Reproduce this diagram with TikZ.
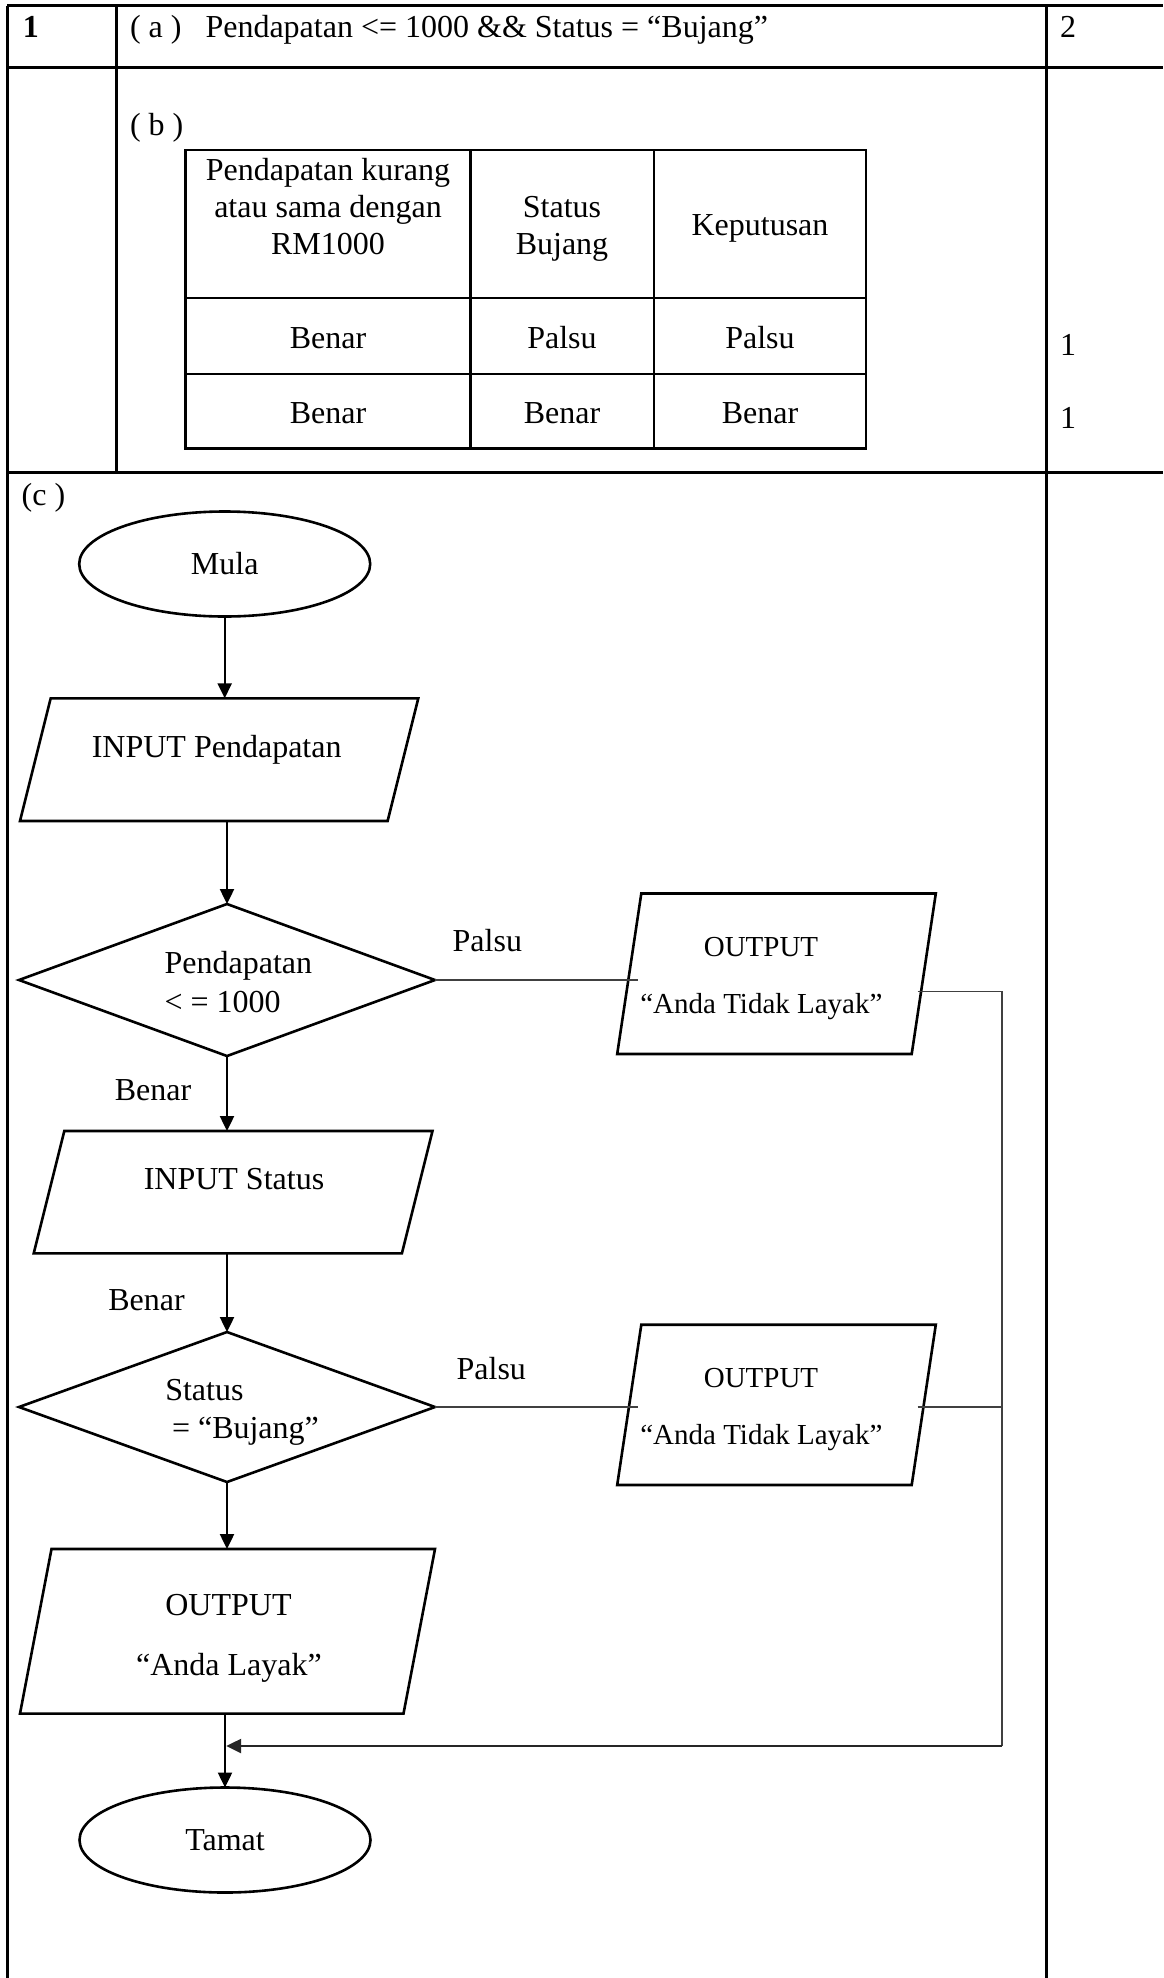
\documentclass[tikz,border=0pt]{standalone}
\usepackage{fontspec}
\setmainfont{Liberation Serif}
\usetikzlibrary{arrows.meta,shapes.geometric,calc}
\newcommand\drawpara[2]{%
  \draw[shapeline] ([xshift=#2pt]#1.north west) -- (#1.north east) -- ([xshift=-#2pt]#1.south east) -- (#1.south west) -- cycle;}
\begin{document}
\begin{tikzpicture}[x=1pt,y=-1pt,
  every node/.style={inner sep=0pt,outer sep=0pt,font=\fontsize{32pt}{37pt}\selectfont},
  frame/.style={line width=3pt},
  grid/.style={line width=2.6pt},
  shapeline/.style={line width=2.6pt},
  flow/.style={line width=2.4pt,-{Triangle[width=14pt,length=15pt]}},
  thinline/.style={line width=1.4pt,black!75},
  txt/.style={anchor=base west},
  ctxt/.style={anchor=base},
  small/.style={font=\fontsize{29pt}{34pt}\selectfont},
  box/.style={minimum width=#1pt},
  term/.style={ellipse,draw,shapeline,minimum width=291pt,minimum height=105pt},
  decision/.style={diamond,draw,shapeline,minimum width=416pt,aspect=2.75}
]
\useasboundingbox (0,0) rectangle (1163,1978);
\fill[white] (0,0) rectangle (1163,1978);

% ---------- outer table ----------
\draw[frame] (7,5.7) -- (1163,5.7);
\draw[frame] (7,67) -- (1163,67);
\draw[frame] (7,472.7) -- (1163,472.7);
\draw[frame] (7,5.7) -- (7,1978);
\draw[frame] (116,5.7) -- (116,472.7);
\draw[frame] (1046,5.7) -- (1046,1978);

\node[txt,font=\fontsize{32pt}{37pt}\selectfont\bfseries] (q1) at (23,37.5) {1};
\node[txt] (qa) at (130,37.5) {( a )\hspace{24pt}Pendapatan <= 1000 \&\& Status = “Bujang”};
\node[txt] (m2) at (1060,37.5) {2};
\node[txt] (qb) at (130,135) {( b )};
\node[txt] (m1a) at (1060,355.8) {1};
\node[txt] (m1b) at (1060,428.8) {1};

% ---------- inner table ----------
\draw[grid] (185.6,150) rectangle (865.8,448.5);
\draw[grid] (185.6,298) -- (865.8,298);
\draw[grid] (185.6,374) -- (865.8,374);
\draw[grid] (470.7,150) -- (470.7,448.5);
\draw[grid] (654,150) -- (654,448.5);

\node[ctxt] (h1a) at (328,180) {Pendapatan kurang};
\node[ctxt] (h1b) at (328,217.4) {atau sama dengan};
\node[ctxt] (h1c) at (328,254.5) {RM1000};
\node[ctxt] (h2a) at (562,217.4) {Status};
\node[ctxt] (h2b) at (562,254.5) {Bujang};
\node[ctxt] (h3) at (760,235) {Keputusan};
\node[ctxt] (r11) at (328,348) {Benar};
\node[ctxt] (r12) at (562,348) {Palsu};
\node[ctxt] (r13) at (760,348) {Palsu};
\node[ctxt] (r21) at (328,423.6) {Benar};
\node[ctxt] (r22) at (562,423.6) {Benar};
\node[ctxt] (r23) at (760,423.6) {Benar};

% ---------- (c) flowchart ----------
\node[txt] (qc) at (21.7,505) {(c )};

\node[term] (mula) at (224.7,564) {Mula};

\node[minimum width=398.3pt,minimum height=122.7pt] (inp1) at (219.15,759.65) {};
\drawpara{inp1}{30.7}
\node[ctxt] (inp1t) at (216.7,757.7) {INPUT Pendapatan};

\node[decision,minimum height=152pt] (dec1) at (227,980) {};
\node[txt] (dec1a) at (164.6,973) {Pendapatan};
\node[txt] (dec1b) at (164.6,1012) {< = 1000};

\node[minimum width=318.6pt,minimum height=160.5pt] (out1) at (776.5,973.75) {};
\drawpara{out1}{24.1}
\node[ctxt,small] (out1a) at (761,956.7) {OUTPUT};
\node[ctxt,small] (out1b) at (761.4,1013) {“Anda Tidak Layak”};

\node[minimum width=398.8pt,minimum height=122.4pt] (inp2) at (233.1,1192.2) {};
\drawpara{inp2}{30.6}
\node[ctxt] (inp2t) at (234,1189.9) {INPUT Status};

\node[decision,minimum height=150pt] (dec2) at (227,1407) {};
\node[txt] (dec2a) at (165.3,1400) {Status};
\node[txt] (dec2b) at (172,1438) {= “Bujang”};

\node[minimum width=318.6pt,minimum height=160.3pt] (out2) at (776.5,1404.85) {};
\drawpara{out2}{24.1}
\node[ctxt,small] (out2a) at (761,1387.9) {OUTPUT};
\node[ctxt,small] (out2b) at (761.4,1444) {“Anda Tidak Layak”};

\node[minimum width=415pt,minimum height=164.6pt] (out3) at (227.5,1631.3) {};
\drawpara{out3}{31.5}
\node[ctxt] (out3a) at (228.5,1615.3) {OUTPUT};
\node[ctxt] (out3b) at (229,1675.7) {“Anda Layak”};

\node[term] (tamat) at (225,1840) {Tamat};

% labels
\node[txt] (palsu1) at (452.7,951.8) {Palsu};
\node[txt] (benar1) at (114.8,1100) {Benar};
\node[txt] (benar2) at (108.3,1310.4) {Benar};
\node[txt] (palsu2) at (456.6,1379) {Palsu};

% ---------- connectors ----------
\draw[flow] (mula.south) -- (mula.south |- inp1.north);
\draw[flow] (dec1.north |- inp1.south) -- (dec1.north);
\draw[flow] (dec1.south) -- (dec1.south |- inp2.north);
\draw[flow] (dec2.north |- inp2.south) -- (dec2.north);
\draw[flow] (dec2.south) -- (dec2.south |- out3.north);
\draw[flow] (tamat.north |- out3.south) -- (tamat.north);

\coordinate (o1l) at (638,980);
\coordinate (o1r) at (917.5,991.2);
\coordinate (o2l) at (638,1407);
\coordinate (o2r) at (917.5,1407);
\coordinate (rt) at (1002,991.2);
\coordinate (rb) at (1002,1746);

\draw[thinline] (dec1.east) -- (o1l);
\draw[thinline] (dec2.east) -- (o2l);
\draw[thinline] (o1r) -- (rt) -- (rb);
\draw[thinline] (o2r) -- (o2r -| rt);
\draw[flow,black!85,shorten >=1.2pt] (rb) -- (rb -| tamat.north);
\end{tikzpicture}
\end{document}
